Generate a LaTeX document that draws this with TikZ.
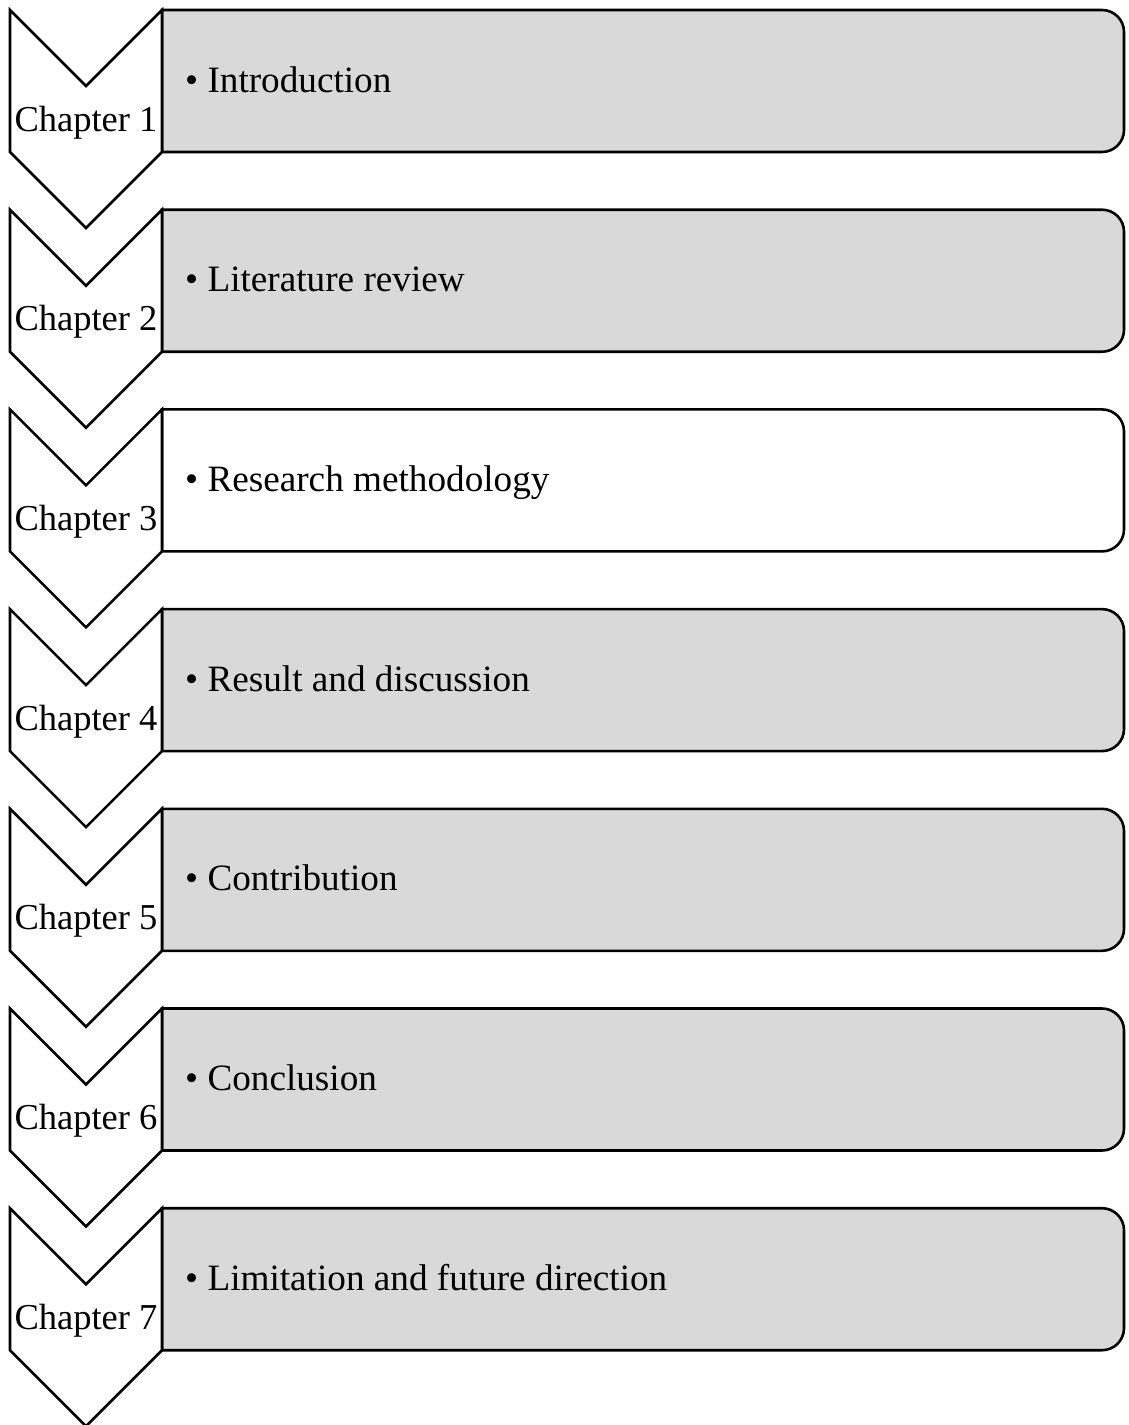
\documentclass[tikz,border=0pt]{standalone}
\usepackage{fontspec}
\setmainfont{Liberation Serif}
\definecolor{boxgray}{HTML}{D9D9D9}
\tikzset{
  outline/.style={draw=black, line width=2.6pt, line join=miter},
  chev/.style={outline, fill=white},
  itembox/.style={outline},
  chaptext/.style={font=\fontsize{36.5}{40}\selectfont, inner sep=0pt, anchor=base},
  itemtext/.style={font=\fontsize{37.2}{40}\selectfont, inner sep=0pt, anchor=base west},
}
\begin{document}
\begin{tikzpicture}[x=1pt,y=-1pt]
\useasboundingbox (0,0) rectangle (1128,1425);
\clip (0,0) rectangle (1128,1425);
\foreach \i/\txt/\fc in {1/Introduction/boxgray,2/Literature review/boxgray,3/Research methodology/white,4/Result and discussion/boxgray,5/Contribution/boxgray,6/Conclusion/boxgray,7/Limitation and future direction/boxgray}{
  \pgfmathsetmacro{\t}{10+199.7*(\i-1)}
  % box with rounded right corners
  \draw[itembox, fill=\fc] (162,\t) -- (1102,\t) arc[start angle=-90,end angle=0,radius=22] -- (1124,\t+120) arc[start angle=0,end angle=90,radius=22] -- (162,\t+142) -- cycle;
  % chevron
  \draw[chev] (10,\t) -- (86,\t+76) -- (162,\t) -- (162,\t+142) -- (86,\t+218) -- (10,\t+142) -- cycle;
  \node[chaptext] (chap\i) at (86,\t+121) {Chapter \i};
  \node[itemtext] (item\i) at (185,\t+82) {• \txt};
}
\end{tikzpicture}
\end{document}
